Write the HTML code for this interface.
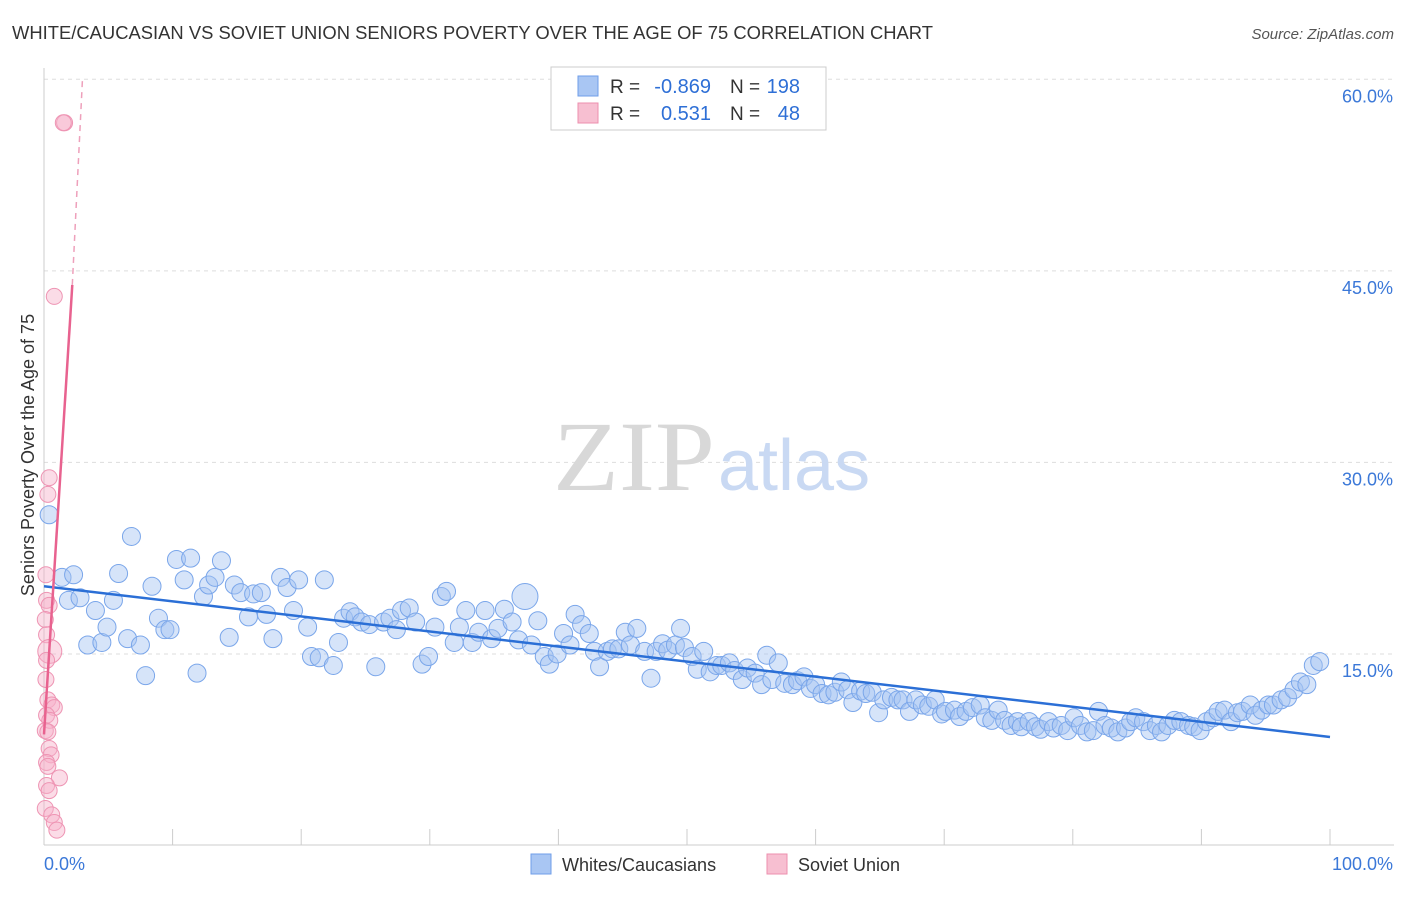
<!DOCTYPE html>
<html><head><meta charset="utf-8"><style>
body{margin:0;background:#fff;font-family:"Liberation Sans",sans-serif}
</style></head><body>
<svg id="chart" width="1406" height="892" xmlns="http://www.w3.org/2000/svg" font-family="Liberation Sans, sans-serif">
<text x="12" y="39" font-size="18" fill="#333" textLength="921" lengthAdjust="spacingAndGlyphs">WHITE/CAUCASIAN VS SOVIET UNION SENIORS POVERTY OVER THE AGE OF 75 CORRELATION CHART</text>
<text x="1394" y="39" font-size="15" fill="#555" text-anchor="end" font-style="italic">Source: ZipAtlas.com</text>
<g id="grid"></g>
<g>
<text x="553" y="490" font-size="100" fill="#d8d8d8" font-family="Liberation Serif, serif" textLength="162" lengthAdjust="spacingAndGlyphs">ZIP</text>
<text x="718" y="490" font-size="72" fill="#c9d9f3">atlas</text>
</g>
<g id="pts"></g>
<g id="lines"></g>
<text transform="translate(34,455) rotate(-90)" font-size="18" fill="#333" text-anchor="middle">Seniors Poverty Over the Age of 75</text>
<g>
<rect x="551" y="67" width="275" height="63" fill="#fff" stroke="#ccc"/>
<rect x="578" y="76" width="20" height="20" fill="#a9c6f3" stroke="#6f9ee8"/>
<rect x="578" y="103" width="20" height="20" fill="#f7bfd1" stroke="#ec8fae"/>
<text x="610" y="93" font-size="19" fill="#333">R =</text>
<text x="711" y="93" font-size="20" fill="#2e6fd6" text-anchor="end">-0.869</text>
<text x="730" y="93" font-size="19" fill="#333">N =</text>
<text x="800" y="93" font-size="20" fill="#2e6fd6" text-anchor="end">198</text>
<text x="610" y="120" font-size="19" fill="#333">R =</text>
<text x="711" y="120" font-size="20" fill="#2e6fd6" text-anchor="end">0.531</text>
<text x="730" y="120" font-size="19" fill="#333">N =</text>
<text x="800" y="120" font-size="20" fill="#2e6fd6" text-anchor="end">48</text>
</g>
<g>
<rect x="531" y="854" width="20" height="20" fill="#a9c6f3" stroke="#6f9ee8"/>
<text x="562" y="871" font-size="18" fill="#333">Whites/Caucasians</text>
<rect x="767" y="854" width="20" height="20" fill="#f7bfd1" stroke="#ec8fae"/>
<text x="798" y="871" font-size="18" fill="#333">Soviet Union</text>
</g>
</svg>
<script>
const yTicks=[15,30,45,60];
const yTickLabels=["15.0%","30.0%","45.0%","60.0%"];
const xTicks=[10,20,30,40,50,60,70,80,90,100];
const blueX=[0.4,1.4,2.3,1.9,2.8,3.4,4.0,4.5,4.9,5.4,5.8,6.5,6.8,7.5,7.9,8.4,8.9,9.4,9.8,10.3,10.9,11.4,11.9,12.4,12.8,13.3,13.8,14.4,14.8,15.3,15.9,16.3,16.9,17.3,17.8,18.4,18.9,19.4,19.8,20.5,20.8,21.4,21.8,22.5,22.9,23.3,23.8,24.2,24.7,25.3,25.8,26.4,26.9,27.4,27.8,28.4,28.9,29.4,29.9,30.4,30.9,31.3,31.9,32.3,32.8,33.3,33.8,34.3,34.8,35.3,35.8,36.4,36.9,37.4,37.9,38.4,38.9,39.3,39.9,40.4,40.9,41.3,41.8,42.4,42.8,43.2,43.8,44.2,44.7,45.2,45.6,46.1,46.7,47.2,47.6,48.1,48.5,49.1,49.5,49.8,50.4,50.8,51.3,51.8,52.3,52.7,53.3,53.7,54.3,54.7,55.3,55.8,56.2,56.6,57.1,57.6,58.2,58.6,59.1,59.6,60.0,60.5,61.0,61.5,62.0,62.5,62.9,63.5,63.9,64.4,64.9,65.3,65.9,66.4,66.8,67.3,67.8,68.3,68.8,69.3,69.8,70.1,70.8,71.2,71.7,72.2,72.8,73.2,73.7,74.2,74.7,75.2,75.7,76.0,76.6,77.1,77.5,78.1,78.5,79.1,79.6,80.1,80.6,81.1,81.6,82.0,82.5,83.0,83.5,84.1,84.5,84.9,85.5,86.0,86.5,86.9,87.4,87.9,88.4,89.0,89.4,89.9,90.4,90.9,91.3,91.8,92.3,92.8,93.2,93.8,94.2,94.7,95.2,95.6,96.2,96.7,97.2,97.7,98.2,98.7,99.2];
const blueY=[25.9,21.0,21.2,19.2,19.4,15.7,18.4,15.9,17.1,19.2,21.3,16.2,24.2,15.7,13.3,20.3,17.8,16.9,16.9,22.4,20.8,22.5,13.5,19.5,20.4,21.0,22.3,16.3,20.4,19.8,17.9,19.7,19.8,18.1,16.2,21.0,20.2,18.4,20.8,17.1,14.8,14.7,20.8,14.1,15.9,17.8,18.3,17.9,17.5,17.3,14.0,17.5,17.8,16.9,18.4,18.6,17.5,14.2,14.8,17.1,19.5,19.9,15.9,17.1,18.4,15.9,16.7,18.4,16.2,17.0,18.5,17.5,16.1,19.5,15.7,17.6,14.8,14.2,15.0,16.6,15.7,18.1,17.3,16.6,15.2,14.0,15.2,15.4,15.4,16.7,15.7,17.0,15.2,13.1,15.2,15.8,15.3,15.7,17.0,15.5,14.8,13.8,15.2,13.6,14.1,14.1,14.3,13.7,13.0,13.9,13.5,12.6,14.9,13.0,14.3,12.7,12.6,12.9,13.2,12.3,12.6,11.9,11.8,12.0,12.8,12.2,11.2,12.1,11.9,12.0,10.4,11.4,11.6,11.4,11.4,10.5,11.4,11.0,10.9,11.4,10.3,10.5,10.6,10.1,10.5,10.8,11.0,10.0,9.8,10.6,9.8,9.4,9.7,9.3,9.7,9.3,9.1,9.7,9.2,9.4,9.0,10.0,9.4,8.9,9.0,10.5,9.4,9.2,8.9,9.2,9.7,10.0,9.7,9.0,9.4,8.9,9.4,9.8,9.7,9.4,9.3,9.0,9.7,10.0,10.5,10.6,9.7,10.4,10.5,11.0,10.2,10.6,11.0,11.0,11.4,11.6,12.2,12.8,12.6,14.1,14.4];
const pinkX=[1.6,1.5,0.8,0.4,0.3,0.15,0.2,0.4,0.1,0.2,0.45,0.2,0.15,0.3,0.6,0.8,0.2,0.45,0.1,0.3,0.4,0.55,0.2,0.3,1.2,0.2,0.4,0.1,0.6,0.8,1.0];
const pinkY=[56.6,56.6,43.0,28.8,27.5,21.2,19.2,18.8,17.7,16.5,15.2,14.5,13.0,11.4,11.0,10.8,10.2,9.8,9.0,8.9,7.6,7.1,6.5,6.2,5.3,4.7,4.3,2.9,2.4,1.8,1.2];
const blueFit=[20.3,8.5];
const pinkFit=[8.7,43.9,60.2];
const pinkFitX=[0,2.2,3.0];
const X=v=>44+v*12.86, Y=v=>845.5-v*12.77;
const NS="http://www.w3.org/2000/svg";
function mk(tag,attrs,parent){const e=document.createElementNS(NS,tag);for(const k in attrs)e.setAttribute(k,attrs[k]);document.getElementById(parent).appendChild(e);return e;}
yTicks.forEach((t,i)=>{
 const l=mk('line',{x1:44,x2:1394,y1:Y(t),y2:Y(t),stroke:'#ddd','stroke-dasharray':'4,4'},'grid');
 
 
 const tx=mk('text',{x:1393,y:Y(t)+23,'font-size':18,fill:'#3b78d8','text-anchor':'end'},'grid');
 tx.textContent=yTickLabels[i];
 
 
});
const ax=mk('line',{x1:44,x2:44,y1:68,y2:845,stroke:'#ccc'},'grid');


const bx=mk('line',{x1:44,x2:1394,y1:845,y2:845,stroke:'#ccc'},'grid');


xTicks.forEach(t=>{
 const l=mk('line',{x1:X(t),x2:X(t),y1:829,y2:845,stroke:'#ccc'},'grid');
 
 
});
const x0=mk('text',{x:44,y:870,'font-size':18,fill:'#3b78d8'},'grid');x0.textContent='0.0%';


const x1=mk('text',{x:1393,y:870,'font-size':18,fill:'#3b78d8','text-anchor':'end'},'grid');x1.textContent='100.0%';


blueX.forEach((v,i)=>{
 const big=(i===73);
 const c=mk('circle',{cx:X(v),cy:Y(blueY[i]),r:big?13:9,fill:'rgba(165,195,242,0.45)',stroke:'#7aa6ea','stroke-width':1},'pts');
 
 
});
pinkX.forEach((v,i)=>{
 const big=(i===10);
 const c=mk('circle',{cx:X(v),cy:Y(pinkY[i]),r:big?12:8,fill:'rgba(246,178,201,0.45)',stroke:'#ee94b3','stroke-width':1},'pts');
 
 
});
const bl=mk('line',{x1:X(0),y1:Y(blueFit[0]),x2:X(100),y2:Y(blueFit[1]),stroke:'#2b6fd6','stroke-width':2.5},'lines');


const pl=mk('line',{x1:X(pinkFitX[0]),y1:Y(pinkFit[0]),x2:X(pinkFitX[1]),y2:Y(pinkFit[1]),stroke:'#e8628f','stroke-width':2.5},'lines');


const pd=mk('line',{x1:X(pinkFitX[1]),y1:Y(pinkFit[1]),x2:X(pinkFitX[2]),y2:Y(pinkFit[2]),stroke:'#eea0bb','stroke-width':1.5,'stroke-dasharray':'6,5'},'lines');


</script>
</body></html>
